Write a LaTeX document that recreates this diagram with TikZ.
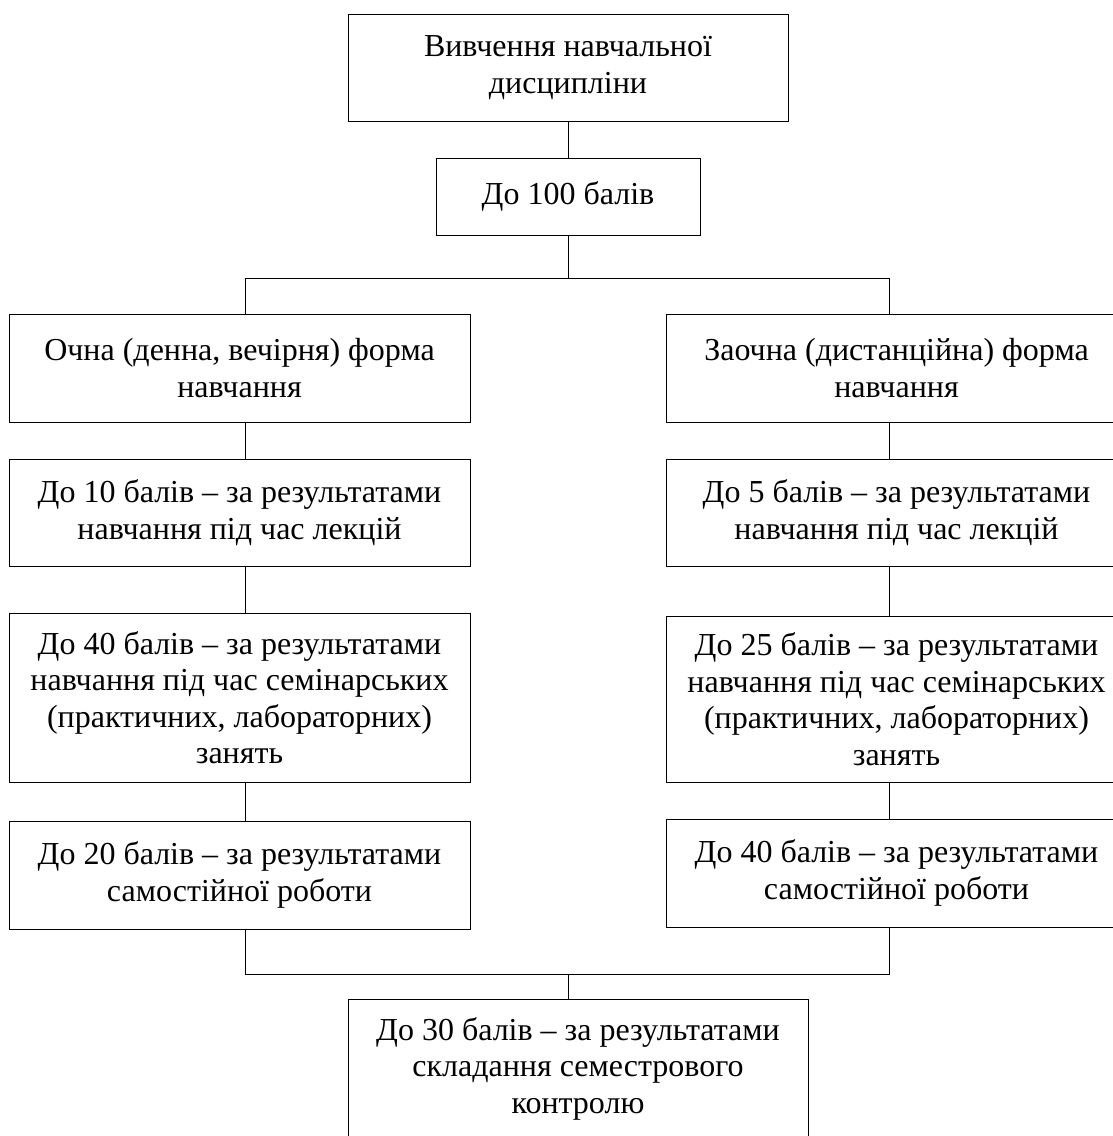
\documentclass[tikz,border=0pt]{standalone}
\usepackage{fontspec}
\setmainfont{Liberation Serif}
\begin{document}
\begin{tikzpicture}[x=1pt,y=-1pt,
  box/.style={draw=black,line width=1pt,align=center,inner sep=0pt,
    font=\fontsize{32}{36.5}\selectfont},
  conn/.style={draw=black,line width=1pt}]
\useasboundingbox (0,0) rectangle (1113,1136);
\node[box,minimum width=440pt,minimum height=107pt] (top) at (568,67.5) {Вивчення навчальної\\дисципліни};
\node[box,minimum width=264pt,minimum height=77pt] (b100) at (568,196.5) {До 100 балів};
\node[box,minimum width=461pt,minimum height=108pt] (L1) at (239.5,368) {Очна (денна, вечірня) форма\\навчання};
\node[box,minimum width=461pt,minimum height=108pt] (R1) at (896.5,368) {Заочна (дистанційна) форма\\навчання};
\node[box,minimum width=461pt,minimum height=107pt] (L2) at (239.5,512.5) {До 10 балів – за результатами\\навчання під час лекцій};
\node[box,minimum width=461pt,minimum height=107pt] (R2) at (896.5,512.5) {До 5 балів – за результатами\\навчання під час лекцій};
\node[box,minimum width=461pt,minimum height=169pt] (L3) at (239.5,697.5) {До 40 балів – за результатами\\навчання під час семінарських\\(практичних, лабораторних)\\занять};
\node[box,minimum width=461pt,minimum height=166pt] (R3) at (896.5,699) {До 25 балів – за результатами\\навчання під час семінарських\\(практичних, лабораторних)\\занять};
\node[box,minimum width=461pt,minimum height=108pt] (L4) at (239.5,875) {До 20 балів – за результатами\\самостійної роботи};
\node[box,minimum width=461pt,minimum height=108pt] (R4) at (896.5,873) {До 40 балів – за результатами\\самостійної роботи};
\node[box,minimum width=460pt,minimum height=139pt] (bot) at (578,1068.5) {До 30 балів – за результатами\\складання семестрового\\контролю};
\coordinate (tm) at (568,278);
\coordinate (tl) at (245.5,278);
\coordinate (tr) at (889,278);
\coordinate (bm) at (568,974);
\coordinate (bl) at (245.5,974);
\coordinate (br) at (889,974);
\draw[conn] (top.south) -- (b100.north);
\draw[conn] (b100.south) -- (tm);
\draw[conn] (tl |- L1.north) -- (tl) -- (tr) -- (tr |- R1.north);
\draw[conn] (tl |- L1.south) -- (tl |- L2.north);
\draw[conn] (tl |- L2.south) -- (tl |- L3.north);
\draw[conn] (tl |- L3.south) -- (tl |- L4.north);
\draw[conn] (tr |- R1.south) -- (tr |- R2.north);
\draw[conn] (tr |- R2.south) -- (tr |- R3.north);
\draw[conn] (tr |- R3.south) -- (tr |- R4.north);
\draw[conn] (tl |- L4.south) -- (bl) -- (br) -- (tr |- R4.south);
\draw[conn] (bm) -- (bm |- bot.north);
\end{tikzpicture}
\end{document}
